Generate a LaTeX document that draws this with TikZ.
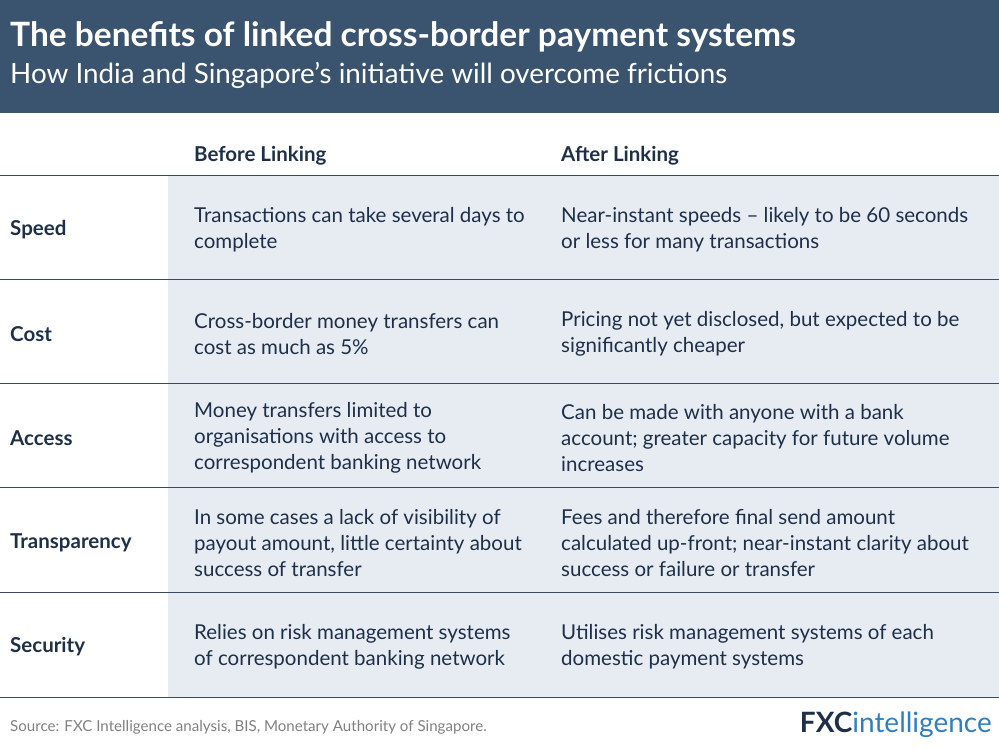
\documentclass[tikz,border=0pt]{standalone}
\usepackage{fontspec}
\setmainfont{Lato}
\definecolor{hdr}{HTML}{3A5470}
\definecolor{ink}{HTML}{1E2F4A}
\definecolor{cellbg}{HTML}{E6ECF2}
\definecolor{rule}{HTML}{3A4A60}
\definecolor{logob}{HTML}{2F7FC1}
\tikzset{
 body/.style={anchor=west,text=ink,font=\fontsize{20.5}{26}\selectfont,align=left,inner sep=0pt,yshift=-3pt},
 lab/.style={body,font=\fontsize{20.5}{26}\selectfont\bfseries},
 rl/.style={draw=rule,line width=0.8pt}
}
\begin{document}
\begin{tikzpicture}[x=1pt,y=-1pt]
\useasboundingbox (0,0) rectangle (999,749);
\fill[hdr] (0,0) rectangle (999,113);
\node[anchor=west,text=white,inner sep=0pt,font=\fontsize{33.5}{38}\selectfont\bfseries] (title) at (10,37) {The benefits of linked cross-border payment systems};
\node[anchor=west,text=white,inner sep=0pt,font=\fontsize{27.8}{32}\selectfont] (sub) at (10,75) {How India and Singapore’s initiative will overcome frictions};
\fill[cellbg] (168,175) rectangle (999,697);
\node[lab] (hb) at (194,153) {Before Linking};
\node[lab] (ha) at (561,153) {After Linking};
\foreach \y in {175,279,383,487,592,697} \draw[rl] (0,\y) -- (999,\y);
\node[lab] (l1) at (10,227) {Speed};
\node[lab] (l2) at (10,331) {Cost};
\node[lab] (l3) at (10,435) {Access};
\node[lab] (l4) at (10,540) {Transparency};
\node[lab] (l5) at (10,644) {Security};
\node[body] (b1) at (194,227) {Transactions can take several days to\\complete};
\node[body] (b2) at (194,331) {Cross-border money transfers can\\cost as much as 5\%};
\node[body] (b3) at (194,435) {Money transfers limited to\\organisations with access to\\correspondent banking network};
\node[body] (b4) at (194,540) {In some cases a lack of visibility of\\payout amount, little certainty about\\success of transfer};
\node[body] (b5) at (194,644) {Relies on risk management systems\\of correspondent banking network};
\node[body] (a1) at (561,227) {Near-instant speeds – likely to be 60 seconds\\or less for many transactions};
\node[body] (a2) at (561,331) {Pricing not yet disclosed, but expected to be\\significantly cheaper};
\node[body] (a3) at (561,435) {Can be made with anyone with a bank\\account; greater capacity for future volume\\increases};
\node[body] (a4) at (561,540) {Fees and therefore final send amount\\calculated up-front; near-instant clarity about\\success or failure or transfer};
\node[body] (a5) at (561,644) {Utilises risk management systems of each\\domestic payment systems};
\node[anchor=west,inner sep=0pt,text=gray,font=\fontsize{15.1}{17}\selectfont] (src) at (10,727) {Source: FXC Intelligence analysis, BIS, Monetary Authority of Singapore.};
\node[anchor=east,inner sep=0pt,font=\fontsize{28}{30}\selectfont] (logo) at (992,725) {\textcolor{ink}{\bfseries FXC}\textcolor{logob}{intelligence}};
\end{tikzpicture}
\end{document}
